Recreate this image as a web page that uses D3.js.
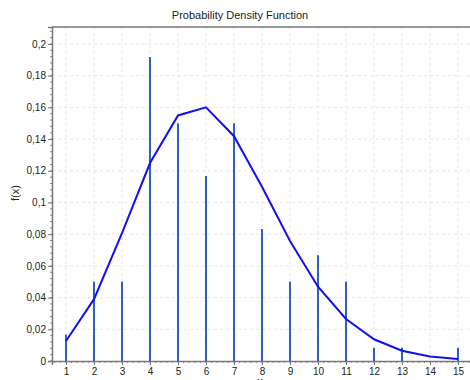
<!DOCTYPE html>
<html>
<head>
	<meta charset="UTF-8">
	<title>Probability Density Function</title>
	<script type="text/javascript" src="https://cdn.jsdelivr.net/npm/d3@7/dist/d3.min.js"></script>
	<style>
		body { margin: 0; background: #fff; }
		text { font-family: "Liberation Sans", Arial, sans-serif; fill: #222; }
		.grid line { stroke: #e8e8e8; stroke-dasharray: 3,3; }
	</style>
</head>
<body>

<script type="text/javascript">
	var w = 470;
	var h = 380;

	// observed relative frequencies (stems) and fitted density (line)
	var xValues = [1, 2, 3, 4, 5, 6, 7, 8, 9, 10, 11, 12, 13, 14, 15];
	var observed = [0.0167, 0.05, 0.05, 0.1917, 0.15, 0.1167, 0.15, 0.0833, 0.05, 0.0667, 0.05, 0.0083, 0.0083, 0, 0.0083];
	var density = [0.0126, 0.039, 0.0806, 0.1249, 0.1549, 0.16, 0.1418, 0.1099, 0.0757, 0.0469, 0.0265, 0.0137, 0.0065, 0.0029, 0.0012];
	var yTicks = [0, 0.02, 0.04, 0.06, 0.08, 0.1, 0.12, 0.14, 0.16, 0.18, 0.2];

	var margin = { top: 27, left: 52, bottom: 19, right: -2 };
	var width = w - margin.left - margin.right;
	var height = h - margin.top - margin.bottom;

	var x = d3.scaleLinear()
		.domain([0.5, 15.5])
		.range([0, width]);

	var y = d3.scaleLinear()
		.domain([0, 0.2107])
		.range([height, 0]);

	var svg = d3.select("body")
		.append("svg")
		.attr("width", w)
		.attr("height", h);

	svg.append("text")
		.attr("x", 240)
		.attr("y", 19)
		.attr("text-anchor", "middle")
		.style("font-size", "11px")
		.text("Probability Density Function");

	var chart = svg.append("g")
		.attr("transform", "translate(" + margin.left + "," + margin.top + ")");

	// grid
	chart.append("g").classed("grid", true)
		.selectAll("line")
		.data(xValues)
		.enter()
		.append("line")
		.attr("x1", function(d){ return x(d); })
		.attr("x2", function(d){ return x(d); })
		.attr("y1", 0)
		.attr("y2", height);

	chart.append("g").classed("grid", true)
		.selectAll("line")
		.data(yTicks.slice(1))
		.enter()
		.append("line")
		.attr("x1", 0)
		.attr("x2", width)
		.attr("y1", function(d){ return y(d); })
		.attr("y2", function(d){ return y(d); });

	// frame top
	chart.append("line")
		.attr("x1", 0).attr("x2", width)
		.attr("y1", 0).attr("y2", 0)
		.attr("stroke", "#777")
		.attr("stroke-width", 1.5);

	var fmt = function(d){ return d === 0 ? "0" : d3.format("~g")(d).replace(".", ","); };

	// minor ticks
	var yMinor = d3.range(0, 0.2107, 0.004);
	chart.append("g")
		.selectAll("line")
		.data(yMinor)
		.enter()
		.append("line")
		.attr("x1", -2).attr("x2", 0)
		.attr("y1", function(d){ return y(d); })
		.attr("y2", function(d){ return y(d); })
		.attr("stroke", "#888");

	var xMinor = d3.range(0.6, 15.5, 0.2);
	chart.append("g")
		.selectAll("line")
		.data(xMinor)
		.enter()
		.append("line")
		.attr("y1", height).attr("y2", height + 2)
		.attr("x1", function(d){ return x(d); })
		.attr("x2", function(d){ return x(d); })
		.attr("stroke", "#888");

	var yAxis = chart.append("g")
		.call(d3.axisLeft(y).tickValues(yTicks).tickFormat(fmt).tickSize(4).tickPadding(2));

	var xAxis = chart.append("g")
		.attr("transform", "translate(0," + height + ")")
		.call(d3.axisBottom(x).tickValues(xValues).tickFormat(d3.format("d")).tickSize(4).tickPadding(3));

	[yAxis, xAxis].forEach(function(a){
		a.select(".domain").attr("stroke", "#777").attr("stroke-width", 1.5);
		a.selectAll(".tick line").attr("stroke", "#777");
		a.selectAll("text").style("font-size", "10px").attr("fill", "#222");
	});

	// stems
	chart.selectAll(".stem")
		.data(observed)
		.enter()
		.append("line")
		.classed("stem", true)
		.attr("x1", function(d, i){ return x(xValues[i]); })
		.attr("x2", function(d, i){ return x(xValues[i]); })
		.attr("y1", y(0))
		.attr("y2", function(d){ return y(d); })
		.attr("stroke", "#2f5fc4")
		.attr("stroke-width", 2);

	// density line
	var line = d3.line()
		.x(function(d, i){ return x(xValues[i]); })
		.y(function(d){ return y(d); });

	chart.append("path")
		.datum(density)
		.attr("d", line)
		.attr("fill", "none")
		.attr("stroke", "#1010f0")
		.attr("stroke-width", 2);

	svg.append("text")
		.attr("transform", "translate(19,193) rotate(-90)")
		.attr("text-anchor", "middle")
		.style("font-size", "11px")
		.text("f(x)");

	// axis title sits below the window edge, as in the original
	svg.append("text")
		.attr("x", 260)
		.attr("y", 385)
		.attr("text-anchor", "middle")
		.style("font-size", "11px")
		.text("x");
</script>

</body>
</html>
